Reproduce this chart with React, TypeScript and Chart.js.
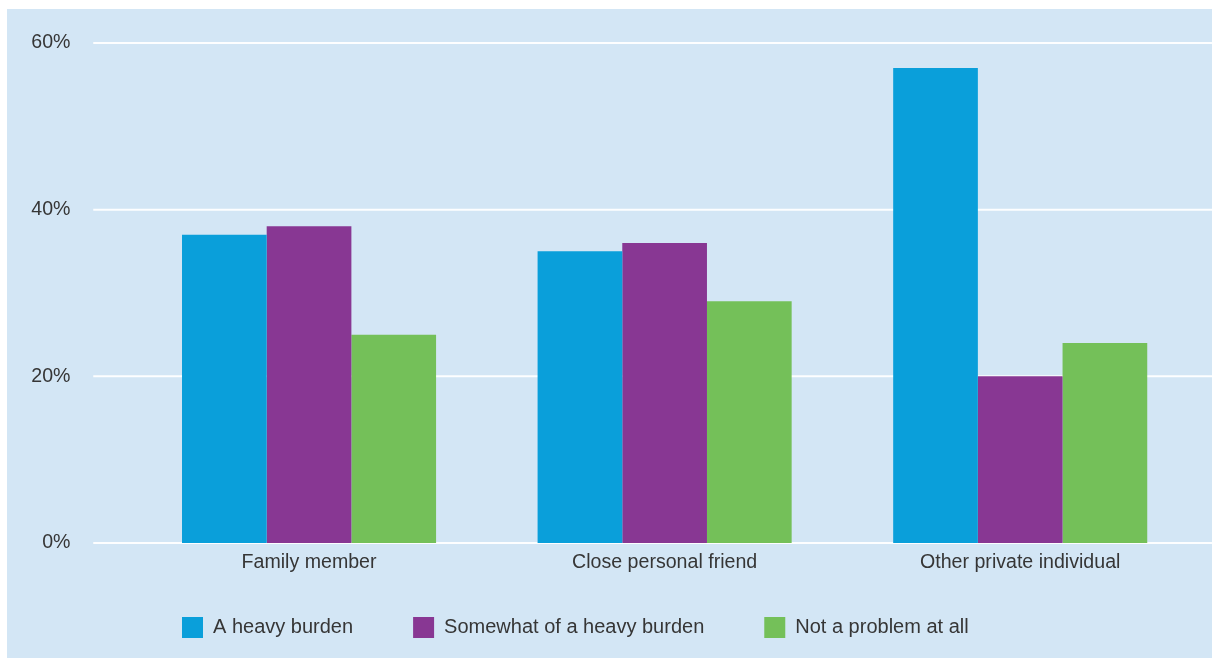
import React, { useEffect, useRef } from "react";
import { Chart, registerables } from "chart.js";

Chart.register(...registerables);

const categories = ["Family member", "Close personal friend", "Other private individual"];
const heavyBurden = [37, 35, 57];
const somewhatHeavy = [38, 36, 20];
const notAProblem = [25, 29, 24];
const seriesLabels = ["A heavy burden", "Somewhat of a heavy burden", "Not a problem at all"];
const yTicks = [0, 20, 40, 60];

const FONT = "'Liberation Sans', Arial, Helvetica, sans-serif";
const TEXT = "#363636";

const gridPlugin = {
  id: "extendedGrid",
  beforeDatasetsDraw(chart: any) {
    const { ctx, chartArea } = chart;
    const y = chart.scales.y;
    ctx.save();
    ctx.strokeStyle = "rgba(255,255,255,0.95)";
    ctx.lineWidth = 2;
    y.ticks.forEach((t: any) => {
      const py = y.getPixelForValue(t.value);
      ctx.beginPath();
      ctx.moveTo(chartArea.left - 38, py);
      ctx.lineTo(chart.width, py);
      ctx.stroke();
    });
    ctx.restore();
  },
};

export default function App() {
  const ref = useRef<HTMLCanvasElement>(null);
  useEffect(() => {
    if (!ref.current) return;
    const chart = new Chart(ref.current, {
      type: "bar",
      data: {
        labels: categories,
        datasets: [
          { label: seriesLabels[0], data: heavyBurden, backgroundColor: "#0a9fda", borderWidth: 0 },
          { label: seriesLabels[1], data: somewhatHeavy, backgroundColor: "#883793", borderWidth: 0 },
          { label: seriesLabels[2], data: notAProblem, backgroundColor: "#74c059", borderWidth: 0 },
        ],
      },
      options: {
        animation: false,
        responsive: false,
        maintainAspectRatio: false,
        layout: { padding: { left: 115, right: 14, top: 34, bottom: 10 } },
        datasets: { bar: { categoryPercentage: 0.7145, barPercentage: 1.0 } },
        scales: {
          x: {
            grid: { display: false, drawTicks: false },
            border: { display: false },
            ticks: { mirror: true, padding: -31, color: TEXT, font: { family: FONT, size: 19.6 } },
            afterFit: (s: any) => {
              s.height = 14;
            },
          },
          y: {
            min: 0,
            max: 60,
            afterBuildTicks: (s: any) => {
              s.ticks = yTicks.map((v) => ({ value: v }));
            },
            grid: { display: false, drawTicks: false },
            border: { display: false },
            ticks: {
              mirror: true,
              crossAlign: "far",
              padding: -100,
              color: TEXT,
              font: { family: FONT, size: 19.6 },
              callback: (v: any) => v + "%",
            },
            afterFit: (s: any) => {
              s.width = 9.25;
            },
          },
        },
        plugins: {
          legend: {
            position: "bottom",
            align: "start",
            fullSize: true,
            labels: {
              boxWidth: 21,
              boxHeight: 21,
              padding: 60,
              color: TEXT,
              font: { family: FONT, size: 20 },
            },
          },
          tooltip: { enabled: false },
        },
      },
      plugins: [gridPlugin],
    });
    return () => chart.destroy();
  }, []);
  return (
    <div
      style={{
        position: "absolute",
        left: 7,
        top: 9,
        width: 1205,
        height: 649,
        background: "#d3e6f5",
      }}
    >
      <canvas ref={ref} width={1205} height={649} style={{ display: "block" }} />
    </div>
  );
}
